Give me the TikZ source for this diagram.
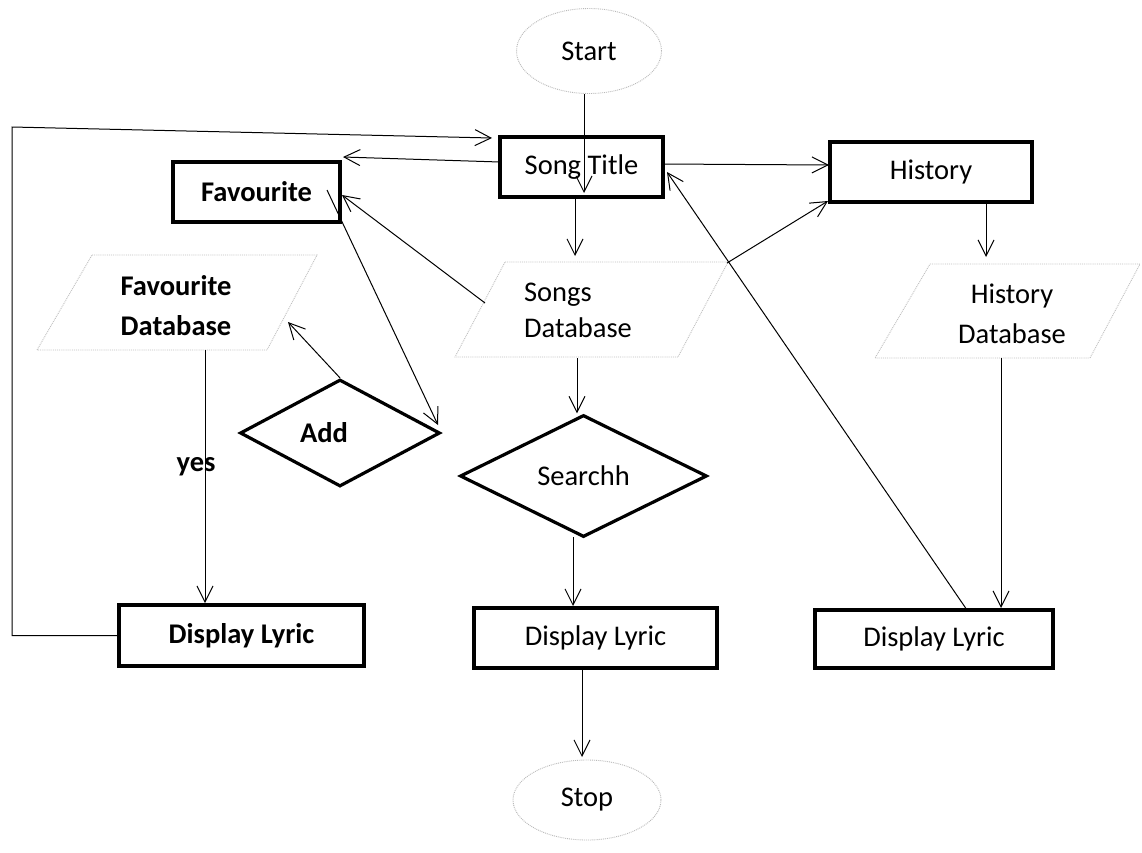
\documentclass[tikz,border=0pt]{standalone}
\usepackage{fontspec}
\setmainfont{Carlito}
\usetikzlibrary{arrows.meta,shapes.geometric}
\begin{document}
\begin{tikzpicture}[x=1pt,y=-1pt,
  every node/.style={font=\fontsize{28.5}{40}\selectfont},
  box/.style={draw, line width=4pt, rectangle, inner sep=0pt},
  dia/.style={draw, line width=3.2pt, diamond, inner sep=0pt},
  term/.style={draw=gray!55, densely dotted, line width=0.9pt, ellipse, inner sep=0pt},
  db/.style={draw=gray!50, densely dotted, line width=0.9pt},
  lbl/.style={inner sep=0pt, align=center},
  bf/.style={font=\fontsize{28.5}{40}\selectfont\bfseries},
  arr/.style={-{Straight Barb[length=16pt,width=16pt]}, line width=1pt},
  ln/.style={line width=1pt}]

\useasboundingbox (0,0) rectangle (1142,852);
\fill[white] (0,0) rectangle (1142,852);

% terminals
\node[term, minimum width=145pt, minimum height=85pt] (start) at (589,51) {Start};
\node[term, minimum width=148pt, minimum height=80pt] (stop) at (587,800) {Stop};

% boxes
\node[box, minimum width=163pt, minimum height=60pt] (title) at (581.5,167) {Song Title};
\node[box, bf, minimum width=167pt, minimum height=60pt] (fav) at (256.5,192) {Favourite};
\node[box, minimum width=202pt, minimum height=60pt] (hist) at (931,172) {History};
\node[box, bf, minimum width=245pt, minimum height=61pt] (dl1) at (241.5,635.5) {Display Lyric};
\node[box, minimum width=243pt, minimum height=60pt] (dl2) at (595.5,638) {Display Lyric};
\node[box, minimum width=238pt, minimum height=58pt] (dl3) at (934,639) {Display Lyric};

% diamonds
\node[dia, minimum width=200pt, minimum height=107pt] (add) at (340,433) {};
\node[lbl, bf] (addtxt) at (324,433) {Add};
\node[dia, minimum width=247pt, minimum height=122pt] (search) at (583.5,476) {Searchh};

% databases
\draw[db] (92,255) -- (317,255) -- (267,350) -- (37,350) -- cycle;
\node[lbl, bf] (favdb) at (176,306) {Favourite\\Database};
\draw[db] (505,262) -- (728,262) -- (678,357) -- (455,357) -- cycle;
\node[lbl, align=left, font=\fontsize{28.5}{36}\selectfont] (songsdb) at (578,310) {Songs\\Database};
\draw[db] (930,264) -- (1140,264) -- (1090,358) -- (875,358) -- cycle;
\node[lbl] (histdb) at (1012,314) {History\\Database};

% label
\node[lbl, bf] (yes) at (196,467) {yes};

% connector end points
\coordinate (stTip) at (584,193);
\coordinate (sdbTop) at (575,256);
\coordinate (tfA) at (500,162);
\coordinate (tfB) at (343,157);
\coordinate (thA) at (663,164);
\coordinate (thB) at (829,165);
\coordinate (lpC) at (12,127);
\coordinate (lpTip) at (492,138);
\coordinate (sfA) at (485,303);
\coordinate (sfB) at (342,195);
\coordinate (shA) at (727,263);
\coordinate (shB) at (828,201);
\coordinate (faA) at (327,190);
\coordinate (faB) at (438,425);
\coordinate (afB) at (288,322);
\coordinate (fdbB) at (205,350);
\coordinate (hdbTop) at (986,257);
\coordinate (hdbB) at (1001,358);
\coordinate (sdbB) at (577,358);
\coordinate (srB) at (573,537);
\coordinate (stopTip) at (582,757);
\coordinate (dtA) at (967,610);
\coordinate (dtB) at (667,172);

% connectors
\draw[arr] (start.south -| stTip) -- (stTip);
\draw[arr] (title.south -| sdbTop) -- (sdbTop);
\draw[arr] (tfA) -- (tfB);
\draw[arr] (thA) -- (thB);
\draw[arr] (dl1.west) -| (lpC) -- (lpTip);
\draw[arr] (sfA) -- (sfB);
\draw[arr] (shA) -- (shB);
\draw[arr] (faA) -- (faB);
\draw[arr] (add.north) -- (afB);
\draw[arr] (fdbB) -- (fdbB |- dl1.north);
\draw[arr] (hist.south -| hdbTop) -- (hdbTop);
\draw[arr] (hdbB) -- (hdbB |- dl3.north);
\draw[arr] (sdbB) -- (sdbB |- search.north);
\draw[arr] (srB) -- (srB |- dl2.north);
\draw[arr] (dl2.south -| stopTip) -- (stopTip);
\draw[arr] (dtA) -- (dtB);
\end{tikzpicture}
\end{document}
